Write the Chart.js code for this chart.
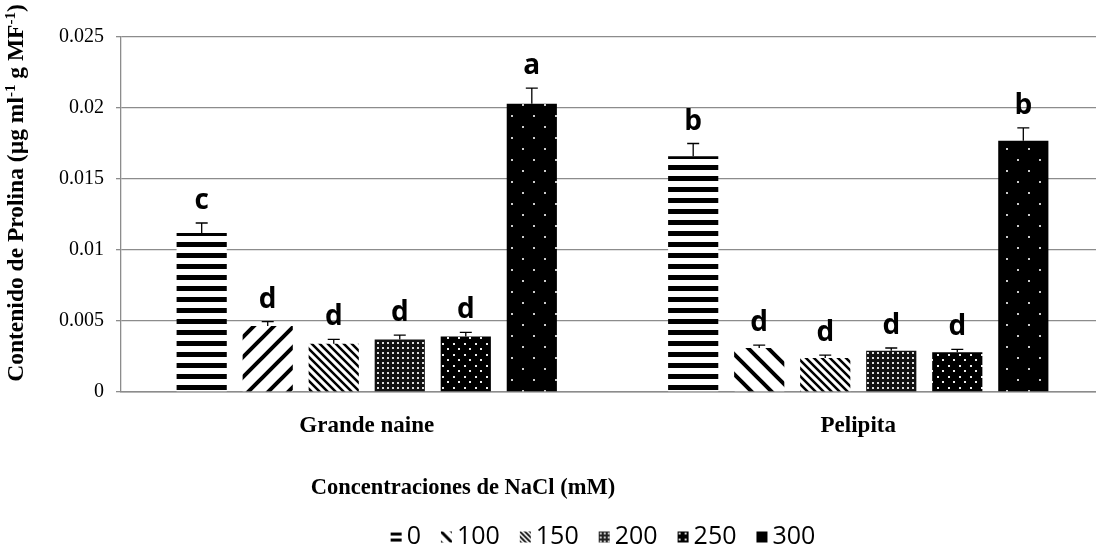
<html>
<head>
<meta charset="utf-8">
<script src="https://cdn.jsdelivr.net/npm/chart.js@4.4.1/dist/chart.umd.min.js"></script>
<style>
  body { margin: 0; background: #fff; overflow: hidden; }
  .chart-box { position: absolute; left: 0; top: 0; width: 1104px; height: 556px; }
</style>
</head>
<body>
<div class="chart-box"><canvas id="prolinaChart"></canvas></div>
<script>
  // data
  const categories = ['Grande naine', 'Pelipita'];
  const concentrations = ['0', '100', '150', '200', '250', '300'];

  const prolina0   = [0.0112, 0.0166];
  const prolina100 = [0.00465, 0.0031];
  const prolina150 = [0.0034, 0.0024];
  const prolina200 = [0.0037, 0.0029];
  const prolina250 = [0.0039, 0.0028];
  const prolina300 = [0.0203, 0.0177];

  const error0   = [0.0007, 0.0009];
  const error100 = [0.0003, 0.0002];
  const error150 = [0.0003, 0.0002];
  const error200 = [0.0003, 0.0002];
  const error250 = [0.0003, 0.0002];
  const error300 = [0.0011, 0.0009];

  const letters0   = ['c', 'b'];
  const letters100 = ['d', 'd'];
  const letters150 = ['d', 'd'];
  const letters200 = ['d', 'd'];
  const letters250 = ['d', 'd'];
  const letters300 = ['a', 'b'];

  const yTicks = [0, 0.005, 0.01, 0.015, 0.02, 0.025];

  // fill patterns
  function makeTile(w, h, draw) {
    const c = document.createElement('canvas');
    c.width = w; c.height = h;
    draw(c.getContext('2d'), w, h);
    return c;
  }
  const scratch = document.createElement('canvas').getContext('2d');
  function pattern(tile) { return scratch.createPattern(tile, 'repeat'); }

  function diagTile(size, lw, up) {
    return makeTile(size, size, (g, w, h) => {
      g.fillStyle = '#fff'; g.fillRect(0, 0, w, h);
      g.strokeStyle = '#000'; g.lineWidth = lw;
      g.beginPath();
      if (up) {
        g.moveTo(-w, 2 * h); g.lineTo(2 * w, -h);
        g.moveTo(-w, h); g.lineTo(w, -h);
        g.moveTo(0, 2 * h); g.lineTo(2 * w, 0);
      } else {
        g.moveTo(-w, -h); g.lineTo(2 * w, 2 * h);
        g.moveTo(-w, 0); g.lineTo(w, 2 * h);
        g.moveTo(0, -h); g.lineTo(2 * w, h);
      }
      g.stroke();
    });
  }

  const patHoriz = pattern(makeTile(8, 11, (g, w, h) => {
    g.fillStyle = '#fff'; g.fillRect(0, 0, w, h);
    g.fillStyle = '#000'; g.fillRect(0, 0, w, 5);
  }));
  const patWideUp = pattern(diagTile(20, 4, true));
  const patWideDown = pattern(diagTile(20, 4, false));
  const patNarrowDown = pattern(diagTile(8, 2.5, false));
  const patGrid = pattern(makeTile(5, 5, (g, w, h) => {
    g.fillStyle = '#111'; g.fillRect(0, 0, w, h);
    g.fillStyle = '#ddd'; g.fillRect(2, 2, 2, 2);
  }));
  const patDots = pattern(makeTile(11, 11, (g, w, h) => {
    g.fillStyle = '#000'; g.fillRect(0, 0, w, h);
    g.fillStyle = '#eee'; g.fillRect(2, 2, 2, 2); g.fillRect(7, 7, 2, 2);
  }));
  const patSparse = pattern(makeTile(22, 22, (g, w, h) => {
    g.fillStyle = '#000'; g.fillRect(0, 0, w, h);
    g.fillStyle = '#ccc'; g.fillRect(5, 5, 2, 2); g.fillRect(16, 16, 2, 2);
  }));

  // small legend swatches
  const legendHoriz = pattern(makeTile(11, 6, (g, w, h) => {
    g.fillStyle = '#fff'; g.fillRect(0, 0, w, h);
    g.fillStyle = '#000'; g.fillRect(0, 1, w, 3);
  }));
  const legendWide = pattern(diagTile(11, 3, false));
  const legendNarrow = pattern(diagTile(5, 1.7, false));
  const legendGrid = pattern(makeTile(4, 4, (g, w, h) => {
    g.fillStyle = '#222'; g.fillRect(0, 0, w, h);
    g.fillStyle = '#ccc'; g.fillRect(1, 1, 2, 2);
  }));
  const legendDots = pattern(makeTile(6, 6, (g, w, h) => {
    g.fillStyle = '#000'; g.fillRect(0, 0, w, h);
    g.fillStyle = '#ddd'; g.fillRect(1, 1, 2, 2);
  }));

  const fills = [
    [patHoriz, patHoriz],
    [patWideUp, patWideDown],
    [patNarrowDown, patNarrowDown],
    [patGrid, patGrid],
    [patDots, patDots],
    [patSparse, patSparse],
  ];
  const legendFills = [legendHoriz, legendWide, legendNarrow, legendGrid, legendDots, '#000'];

  const means = [prolina0, prolina100, prolina150, prolina200, prolina250, prolina300];
  const errors = [error0, error100, error150, error200, error250, error300];
  const letters = [letters0, letters100, letters150, letters200, letters250, letters300];

  const datasets = concentrations.map((c, i) => ({
    label: c,
    data: means[i],
    errors: errors[i],
    letters: letters[i],
    backgroundColor: fills[i],
    borderWidth: 0,
  }));

  // error bars, letters, titles and legend
  const extrasPlugin = {
    id: 'extras',
    afterDatasetsDraw(chart) {
      const ctx = chart.ctx;
      const y = chart.scales.y;
      ctx.save();
      ctx.strokeStyle = '#000';
      ctx.lineWidth = 1.3;
      ctx.fillStyle = '#000';
      ctx.font = 'bold 28px "Open Sans"';
      ctx.textAlign = 'center';
      ctx.textBaseline = 'alphabetic';
      chart.data.datasets.forEach((ds, i) => {
        chart.getDatasetMeta(i).data.forEach((bar, j) => {
          const top = y.getPixelForValue(ds.data[j] + ds.errors[j]);
          ctx.beginPath();
          ctx.moveTo(bar.x, bar.y);
          ctx.lineTo(bar.x, top);
          ctx.moveTo(bar.x - 6, top);
          ctx.lineTo(bar.x + 6, top);
          ctx.stroke();
          ctx.fillText(ds.letters[j], bar.x, top - 14);
        });
      });
      ctx.restore();
    },
    afterDraw(chart) {
      const ctx = chart.ctx;
      ctx.save();
      ctx.fillStyle = '#000';

      // x title
      ctx.font = 'bold 22.5px "Liberation Serif"';
      ctx.textAlign = 'center';
      ctx.textBaseline = 'middle';
      ctx.fillText('Concentraciones de NaCl (mM)', 463, 488);

      // legend
      ctx.font = '25px "Open Sans"';
      ctx.textAlign = 'left';
      const box = 11, gap = 5, space = 20;
      let total = 0;
      chart.data.datasets.forEach(ds => { total += box + gap + ctx.measureText(ds.label).width; });
      total += space * (chart.data.datasets.length - 1);
      let lx = 603 - total / 2;
      const ly = 537;
      chart.data.datasets.forEach((ds, i) => {
        ctx.save();
        ctx.translate(lx, ly - box / 2);
        ctx.fillStyle = legendFills[i];
        ctx.fillRect(0, 0, box, box);
        ctx.restore();
        ctx.fillText(ds.label, lx + box + gap, ly);
        lx += box + gap + ctx.measureText(ds.label).width + space;
      });

      // y title with superscripts
      const parts = [
        ['Contenido de Prolina (µg ml', false],
        ['-1', true],
        [' g MF', false],
        ['-1', true],
        [')', false],
      ];
      const big = 'bold 23.5px "Liberation Serif"';
      const small = 'bold 15px "Liberation Serif"';
      let len = 0;
      parts.forEach(p => { ctx.font = p[1] ? small : big; len += ctx.measureText(p[0]).width; });
      ctx.translate(17, 193);
      ctx.rotate(-Math.PI / 2);
      ctx.textBaseline = 'middle';
      let x = -len / 2;
      parts.forEach(p => {
        ctx.font = p[1] ? small : big;
        ctx.fillText(p[0], x, p[1] ? -6 : 0);
        x += ctx.measureText(p[0]).width;
      });
      ctx.restore();
    }
  };

  new Chart(document.getElementById('prolinaChart'), {
    type: 'bar',
    data: { labels: categories, datasets: datasets },
    plugins: [extrasPlugin],
    options: {
      responsive: true,
      maintainAspectRatio: false,
      animation: false,
      layout: { padding: { top: 37, right: 0, left: 0, bottom: 0 } },
      datasets: { bar: { categoryPercentage: 0.806, barPercentage: 0.76 } },
      plugins: {
        tooltip: { enabled: false },
        legend: { display: false },
      },
      scales: {
        x: {
          grid: { display: false },
          border: { color: '#8c8c8c', width: 1.5 },
          ticks: {
            color: '#000',
            padding: 12,
            font: { family: 'Liberation Serif', size: 23, weight: 'bold' },
          },
          afterFit: (scale) => { scale.height = 164; },
        },
        y: {
          min: 0,
          max: 0.025,
          afterBuildTicks: (scale) => { scale.ticks = yTicks.map(v => ({ value: v })); },
          afterFit: (scale) => { scale.width = 121; },
          grid: { color: '#8c8c8c', lineWidth: 1.3, tickLength: 5 },
          border: { color: '#8c8c8c', width: 1.3 },
          ticks: {
            color: '#000',
            padding: 12,
            font: { family: 'Liberation Serif', size: 20 },
            callback: (v) => String(+v.toFixed(3)),
          },
        },
      },
    },
  });
</script>
</body>
</html>
